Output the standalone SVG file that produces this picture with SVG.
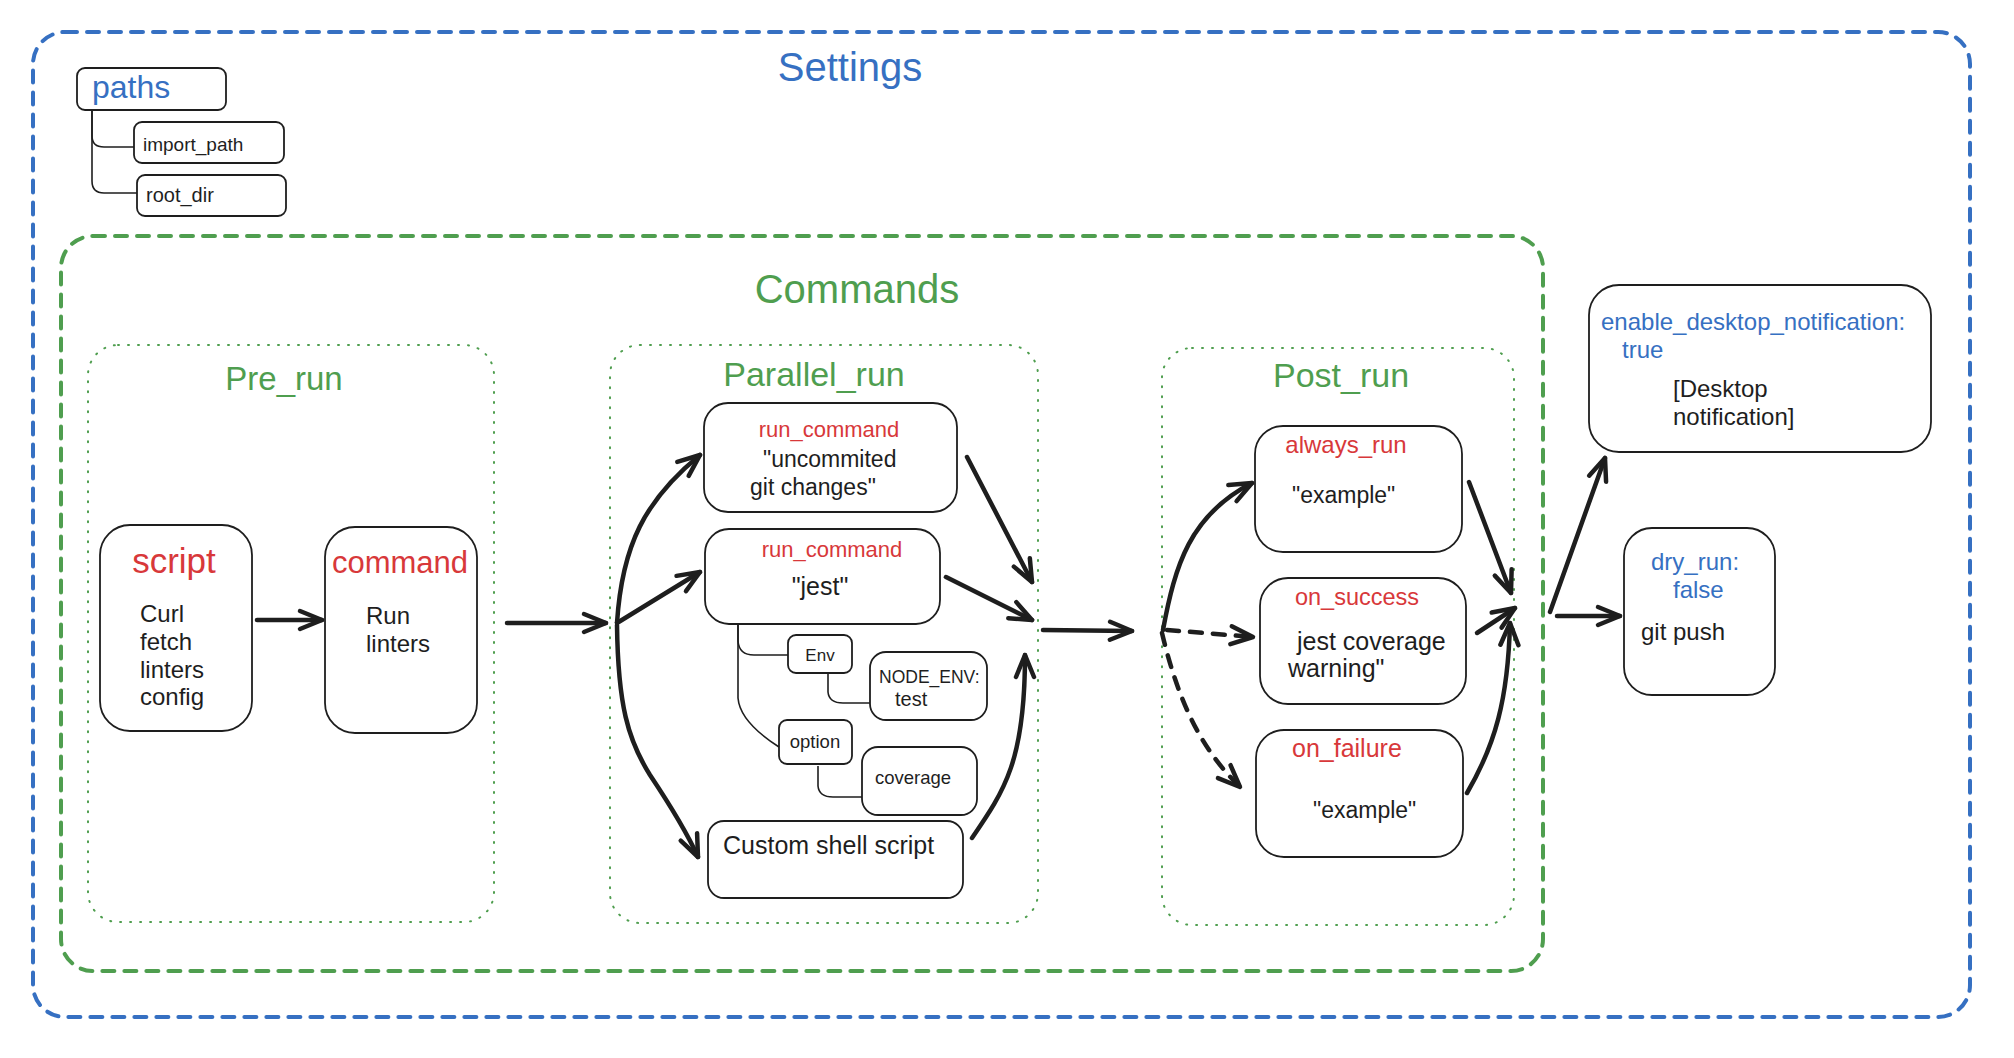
<svg xmlns="http://www.w3.org/2000/svg" width="2014" height="1058" viewBox="0 0 2014 1058">
<style>
.bg{fill:#ffffff}
.outer{fill:none;stroke:#3670c2;stroke-width:4;stroke-dasharray:12 10;stroke-linecap:round}
.cmd{fill:none;stroke:#4f9e4f;stroke-width:4;stroke-dasharray:12 10;stroke-linecap:round}
.grp{fill:none;stroke:#4f9e4f;stroke-width:2;stroke-dasharray:1 9;stroke-linecap:round}
.box{fill:#ffffff;stroke:#1e1e1e;stroke-width:1.8}
.title{font-family:"Liberation Sans",Arial,sans-serif;font-size:40px;text-anchor:middle}
.hand{font-family:"Liberation Sans",Arial,sans-serif}
.g{fill:#4f9e4f}
.b{fill:#3670c2}
.r{fill:#d8383a}
.k{fill:#1e1e1e}
.tree{fill:none;stroke:#1e1e1e;stroke-width:1.6}
.arr{fill:none;stroke:#1e1e1e;stroke-width:4.5;stroke-linecap:round;stroke-linejoin:round;marker-end:url(#head)}
.dash{stroke-dasharray:12 11}
</style>
<defs>
<marker id="head" viewBox="0 0 28 24" refX="25" refY="12" markerWidth="28" markerHeight="24" markerUnits="userSpaceOnUse" orient="auto">
<path d="M3,3 L25,12 L3,21" fill="none" stroke="#1e1e1e" stroke-width="4.5" stroke-linecap="round" stroke-linejoin="round"/>
</marker>
</defs>
<rect class="bg" x="0" y="0" width="2014" height="1058"/>

<g id="settings">
<rect class="outer" x="33" y="32" width="1937" height="985" rx="32"/>
<text class="title b" x="850" y="81">Settings</text>
</g>

<g id="commands">
<rect class="cmd" x="61" y="236" width="1482" height="735" rx="32"/>
<text class="title g" x="857" y="303">Commands</text>
</g>

<g id="pre_run">
<rect class="grp" x="88" y="345" width="406" height="577" rx="30"/>
<text class="hand g" x="284" y="390" font-size="33" text-anchor="middle">Pre_run</text>
</g>

<g id="parallel_run">
<rect class="grp" x="610" y="345" width="428" height="578" rx="30"/>
<text class="hand g" x="814" y="386" font-size="34" text-anchor="middle">Parallel_run</text>
</g>

<g id="post_run">
<rect class="grp" x="1162" y="348" width="352" height="577" rx="30"/>
<text class="hand g" x="1341" y="387" font-size="34" text-anchor="middle">Post_run</text>
</g>

<g id="paths">
<rect class="box" x="77" y="68" width="149" height="42" rx="8"/>
<text class="hand b" x="92" y="98" font-size="32">paths</text>
</g>
<g id="import_path">
<rect class="box" x="134" y="122" width="150" height="41" rx="8"/>
<text class="hand k" x="143" y="151" font-size="19">import_path</text>
</g>
<g id="root_dir">
<rect class="box" x="137" y="175" width="149" height="41" rx="8"/>
<text class="hand k" x="146" y="202" font-size="20">root_dir</text>
</g>

<g id="script">
<rect class="box" x="100" y="525" width="152" height="206" rx="30"/>
<text class="hand r" x="174" y="573" font-size="35" text-anchor="middle">script</text>
<text class="hand k" font-size="24"><tspan x="140" y="622">Curl</tspan><tspan x="140" y="650">fetch</tspan><tspan x="140" y="678">linters</tspan><tspan x="140" y="705">config</tspan></text>
</g>

<g id="command">
<rect class="box" x="325" y="527" width="152" height="206" rx="30"/>
<text class="hand r" x="400" y="573" font-size="31" text-anchor="middle">command</text>
<text class="hand k" font-size="24"><tspan x="366" y="624">Run</tspan><tspan x="366" y="652">linters</tspan></text>
</g>

<g id="run_command_1">
<rect class="box" x="704" y="403" width="253" height="109" rx="24"/>
<text class="hand r" x="829" y="437" font-size="22" text-anchor="middle">run_command</text>
<text class="hand k" font-size="23"><tspan x="763" y="467">"uncommited</tspan><tspan x="750" y="495">git changes"</tspan></text>
</g>

<g id="run_command_2">
<rect class="box" x="705" y="529" width="235" height="95" rx="24"/>
<text class="hand r" x="832" y="557" font-size="22" text-anchor="middle">run_command</text>
<text class="hand k" x="820" y="595" font-size="25" text-anchor="middle">"jest"</text>
</g>

<g id="env">
<rect class="box" x="788" y="635" width="64" height="38" rx="8"/>
<text class="hand k" x="820" y="661" font-size="17" text-anchor="middle">Env</text>
</g>
<g id="node_env">
<rect class="box" x="870" y="652" width="117" height="68" rx="16"/>
<text class="hand k" font-size="17.5"><tspan x="879" y="683">NODE_ENV:</tspan><tspan x="895" y="706" font-size="20">test</tspan></text>
</g>
<g id="option">
<rect class="box" x="779" y="720" width="73" height="44" rx="8"/>
<text class="hand k" x="815" y="748" font-size="18.5" text-anchor="middle">option</text>
</g>
<g id="coverage">
<rect class="box" x="862" y="747" width="115" height="68" rx="16"/>
<text class="hand k" x="875" y="784" font-size="18.5">coverage</text>
</g>

<g id="custom_shell">
<rect class="box" x="708" y="821" width="255" height="77" rx="16"/>
<text class="hand k" x="723" y="854" font-size="25">Custom shell script</text>
</g>

<g id="always_run">
<rect class="box" x="1255" y="426" width="207" height="126" rx="28"/>
<text class="hand r" x="1346" y="453" font-size="24" text-anchor="middle">always_run</text>
<text class="hand k" x="1292" y="503" font-size="23">"example"</text>
</g>

<g id="on_success">
<rect class="box" x="1260" y="578" width="206" height="126" rx="28"/>
<text class="hand r" x="1357" y="605" font-size="23.5" text-anchor="middle">on_success</text>
<text class="hand k" font-size="25"><tspan x="1297" y="650">jest coverage</tspan><tspan x="1288" y="677">warning"</tspan></text>
</g>

<g id="on_failure">
<rect class="box" x="1256" y="730" width="207" height="127" rx="28"/>
<text class="hand r" x="1292" y="757" font-size="25">on_failure</text>
<text class="hand k" x="1313" y="818" font-size="23">"example"</text>
</g>

<g id="desktop_notification">
<rect class="box" x="1589" y="285" width="342" height="167" rx="30"/>
<text class="hand b" font-size="24"><tspan x="1601" y="330">enable_desktop_notification:</tspan><tspan x="1622" y="358">true</tspan></text>
<text class="hand k" font-size="24"><tspan x="1673" y="397">[Desktop</tspan><tspan x="1673" y="425">notification]</tspan></text>
</g>

<g id="dry_run">
<rect class="box" x="1624" y="528" width="151" height="167" rx="28"/>
<text class="hand b" font-size="24"><tspan x="1651" y="570">dry_run:</tspan><tspan x="1673" y="598">false</tspan></text>
<text class="hand k" x="1641" y="640" font-size="24">git push</text>
</g>

<g id="connectors">
<path class="tree" d="M92,110 L92,136 Q92,147 104,147 L134,147"/>
<path class="tree" d="M92,110 L92,181 Q92,193 104,193 L137,193"/>
<path class="tree" d="M738,624 L738,641 Q739,655 754,655 L788,655"/>
<path class="tree" d="M738,624 L738,698 Q740,722 779,747"/>
<path class="tree" d="M828,673 L828,692 Q829,703 843,703 L870,703"/>
<path class="tree" d="M818,766 L818,786 Q819,797 833,797 L862,797"/>

<path class="arr" d="M257,620 L322,620"/>
<path class="arr" d="M507,623 L606,623"/>
<path class="arr" d="M617,623 C622,545 645,500 700,455"/>
<path class="arr" d="M617,623 L700,572"/>
<path class="arr" d="M617,625 C618,705 628,740 650,775 C670,805 688,835 698,857"/>
<path class="arr" d="M967,457 L1032,582"/>
<path class="arr" d="M946,577 L1032,620"/>
<path class="arr" d="M972,838 C1005,790 1025,760 1025,655"/>
<path class="arr" d="M1043,630 L1132,631"/>
<path class="arr" d="M1163,630 C1175,565 1190,515 1252,483"/>
<path class="arr dash" d="M1167,630 L1253,637"/>
<path class="arr dash" d="M1162,633 C1178,700 1200,748 1240,787"/>
<path class="arr" d="M1469,482 L1511,593"/>
<path class="arr" d="M1477,633 L1515,608"/>
<path class="arr" d="M1467,793 C1495,745 1508,700 1510,623"/>
<path class="arr" d="M1550,612 L1605,458"/>
<path class="arr" d="M1557,616 L1620,616"/>
</g>
</svg>
